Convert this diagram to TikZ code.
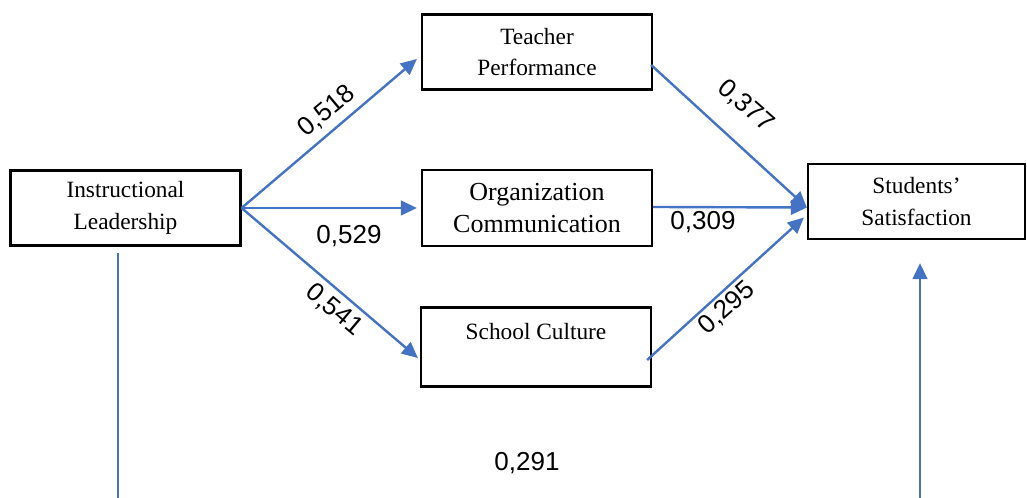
\documentclass[tikz,border=0pt]{standalone}
\usepackage{fontspec}
\setmainfont{Liberation Serif}
\newfontfamily\numfont{Liberation Sans}
\usepackage{tikz}
\usetikzlibrary{arrows.meta}
\definecolor{pathblue}{RGB}{68,114,196}
\tikzset{
  box/.style={draw, line width=1.7pt, rectangle, minimum width=230*0.75pt, minimum height=75*0.75pt, inner sep=0pt, align=center, font=\fontsize{17.5pt}{23.5pt}\selectfont},
  path/.style={draw=pathblue, line width=1.8pt, -{Triangle[length=12pt, width=11pt]}},
  coef/.style={font=\numfont\fontsize{19.5pt}{22pt}\selectfont, inner sep=0pt}
}

\begin{document}
\begin{tikzpicture}[x=0.75pt, y=-0.75pt]
\useasboundingbox (0,0) rectangle (1027,498);

\node[box] (il) at (125.5,208) {Instructional\\Leadership};
\node[box] (tp) at (537,52) {Teacher\\Performance};
\node[box, minimum height=76*0.75pt, font=\fontsize{19.5pt}{23.5pt}\selectfont] (oc) at (537,208) {Organization\\Communication};
\node[box, minimum height=79*0.75pt] (sc) at (536,347) {School Culture\\\mbox{}};
\node[box, minimum width=217*0.75pt] (ss) at (916.5,201.5) {Students'\\Satisfaction};

\coordinate (ilfoot) at (118,253);
\coordinate (ilend) at (118,498);
\coordinate (ssfoot) at (920,498);

\draw[path] (il.east) -- ([shift={(-4,7)}]tp.west);
\draw[path] (il.east) -- ([shift={(-4,0)}]oc.west);
\draw[path] (il.east) -- ([shift={(-2,11)}]sc.west);
\draw[path] ([shift={(-2,13)}]tp.east) -- ([shift={(0,6)}]ss.west);
\draw[path] ([shift={(0,-1)}]oc.east) -- ([shift={(0,6)}]ss.west);
\draw[path] ([shift={(-5,13)}]sc.east) -- ([shift={(-3,16)}]ss.west);
\draw[draw=pathblue, line width=1.8pt] (ilfoot) -- (ilend);
\draw[path] (ssfoot) -- ([shift={(3.5,23)}]ss.south);

\node[coef, rotate=40] (c1) at (327,111) {0,518};
\node[coef] (c2) at (349,236) {0,529};
\node[coef, rotate=-40] (c3) at (334,310) {0,541};
\node[coef, rotate=-41] (c4) at (746,106) {0,377};
\node[coef] (c5) at (703,222) {0,309};
\node[coef, rotate=42] (c6) at (727,308) {0,295};
\node[coef] (c7) at (527,463) {0,291};

\end{tikzpicture}
\end{document}
